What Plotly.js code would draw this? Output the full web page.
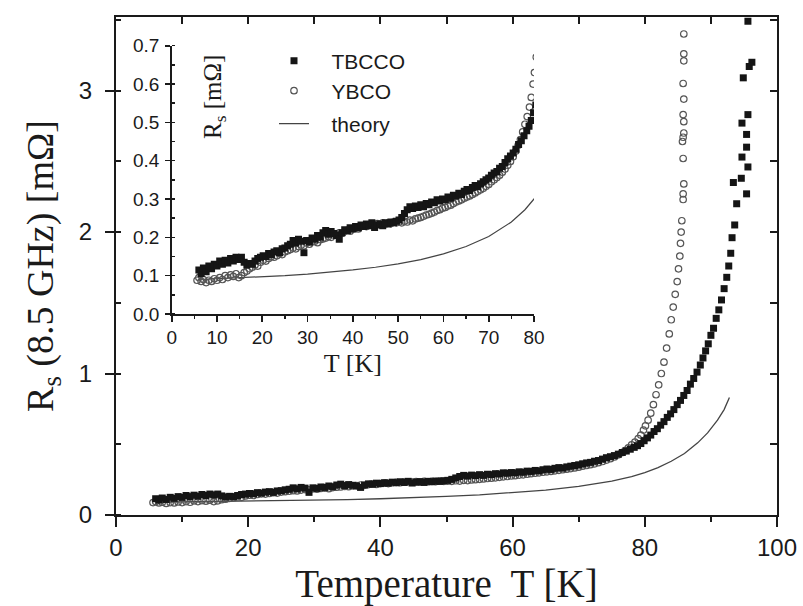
<!DOCTYPE html>
<html>
<head>
<meta charset="utf-8">
<script src="https://cdn.plot.ly/plotly-3.0.1.min.js"></script>
<style>html,body{margin:0;padding:0;background:#fff;}#chart{width:803px;height:606px;}</style>
</head>
<body>
<div id="chart"></div>
<script>
// ---- data ----
const tbccoT = [6.0,6.5,7.0,7.6,8.2,8.8,9.4,10.0,10.6,11.2,11.8,12.4,13.0,13.6,14.2,14.8,15.4,16.0,16.6,17.2,17.8,18.4,19.0,19.6,20.2,20.8,21.4,22.0,22.6,23.2,23.8,24.4,25.0,25.6,26.2,26.8,27.4,28.0,28.6,29.2,29.8,30.4,31.0,31.6,32.2,32.8,33.4,34.0,34.6,35.2,35.8,36.4,37.0,37.6,38.2,38.8,39.4,40.0,40.6,41.2,41.8,42.4,43.0,43.6,44.2,44.8,45.4,46.0,46.6,47.2,47.8,48.4,49.0,49.6,50.2,50.8,51.4,52.0,52.6,53.2,53.8,54.4,55.0,55.6,56.2,56.8,57.4,58.0,58.6,59.2,59.8,60.4,61.0,61.6,62.2,62.8,63.4,64.0,64.6,65.2,65.8,66.4,67.0,67.6,68.2,68.8,69.4,70.0,70.6,71.2,71.8,72.4,73.0,73.6,74.2,74.8,75.4,76.0,76.6,77.2,77.8,78.4,78.9,79.4,79.9,80.4,80.9,81.4,81.9,82.4,82.9,83.4,83.9,84.4,84.9,85.4,85.9,86.4,86.9,87.4,87.9,88.4,88.8,89.2,89.6,90.0,90.4,90.8,91.2,91.6,92.0,92.4,92.7,93.0,93.2,93.6,93.9,93.4,95.4,94.6,95.6,94.7,95.4,95.4,94.7,95.6,94.9,95.8,96.2,95.6];
const tbccoR = [0.115,0.105,0.120,0.110,0.125,0.118,0.130,0.125,0.138,0.130,0.140,0.133,0.145,0.138,0.148,0.142,0.148,0.135,0.128,0.132,0.130,0.138,0.145,0.148,0.152,0.150,0.158,0.155,0.162,0.165,0.160,0.170,0.172,0.178,0.182,0.192,0.185,0.195,0.190,0.160,0.192,0.188,0.198,0.195,0.205,0.200,0.212,0.218,0.208,0.215,0.210,0.205,0.195,0.212,0.220,0.218,0.225,0.222,0.228,0.225,0.232,0.228,0.235,0.230,0.238,0.226,0.232,0.235,0.230,0.238,0.235,0.240,0.238,0.242,0.245,0.252,0.262,0.272,0.280,0.275,0.282,0.278,0.285,0.280,0.288,0.285,0.292,0.290,0.298,0.295,0.300,0.298,0.305,0.302,0.310,0.308,0.315,0.312,0.320,0.325,0.322,0.330,0.335,0.332,0.340,0.345,0.350,0.355,0.362,0.368,0.372,0.380,0.385,0.395,0.405,0.412,0.420,0.430,0.442,0.452,0.465,0.478,0.490,0.505,0.525,0.545,0.565,0.590,0.610,0.635,0.660,0.690,0.715,0.745,0.780,0.810,0.845,0.880,0.925,0.965,1.010,1.060,1.110,1.160,1.210,1.270,1.320,1.390,1.450,1.520,1.600,1.680,1.760,1.850,1.960,2.050,2.200,2.350,2.270,2.380,2.460,2.530,2.600,2.690,2.770,2.830,3.090,3.170,3.200,3.490];

const ybcoT = [5.6,6.0,6.5,7.0,7.6,8.2,8.8,9.4,10.0,10.6,11.2,11.8,12.4,13.0,13.6,14.2,14.8,15.4,16.0,16.6,17.2,17.8,18.4,19.0,19.6,20.2,20.8,21.4,22.0,22.6,23.2,23.8,24.4,25.0,25.6,26.2,26.8,27.4,28.0,28.6,29.2,29.8,30.4,31.0,31.6,32.2,32.8,33.4,34.0,34.6,35.2,35.8,36.4,37.0,37.6,38.2,38.8,39.4,40.0,40.6,41.2,41.8,42.4,43.0,43.6,44.2,44.8,45.4,46.0,46.6,47.2,47.8,48.4,49.0,49.6,50.2,50.8,51.4,52.0,52.6,53.2,53.8,54.4,55.0,55.6,56.2,56.8,57.4,58.0,58.6,59.2,59.8,60.4,61.0,61.6,62.2,62.8,63.4,64.0,64.6,65.2,65.8,66.4,67.0,67.6,68.2,68.8,69.4,70.0,70.6,71.2,71.8,72.4,73.0,73.6,74.2,74.8,75.4,76.0,76.5,77.0,77.5,78.0,78.5,79.0,79.4,79.8,80.1,80.5,80.9,81.3,81.7,82.1,82.5,82.9,83.3,83.7,84.0,84.3,84.6,84.9,85.1,85.3,85.4,85.5,85.6,85.8,85.8,85.9,85.8,85.7,85.8,85.9,85.9,85.8,85.9,85.8,85.9,85.9,85.9];
const ybcoR = [0.088,0.095,0.085,0.090,0.082,0.088,0.085,0.092,0.088,0.095,0.090,0.100,0.095,0.102,0.098,0.105,0.095,0.100,0.108,0.112,0.118,0.122,0.128,0.125,0.135,0.140,0.138,0.145,0.150,0.148,0.152,0.158,0.155,0.162,0.165,0.168,0.172,0.170,0.176,0.180,0.178,0.185,0.182,0.188,0.190,0.186,0.194,0.196,0.198,0.202,0.200,0.206,0.208,0.212,0.210,0.215,0.218,0.216,0.222,0.225,0.222,0.228,0.230,0.228,0.232,0.235,0.232,0.236,0.234,0.238,0.235,0.238,0.236,0.240,0.238,0.240,0.238,0.242,0.240,0.245,0.243,0.248,0.250,0.252,0.255,0.258,0.260,0.263,0.266,0.270,0.272,0.276,0.278,0.282,0.284,0.288,0.292,0.295,0.298,0.302,0.305,0.308,0.312,0.316,0.320,0.324,0.328,0.333,0.338,0.345,0.350,0.356,0.362,0.370,0.378,0.388,0.398,0.410,0.425,0.440,0.455,0.475,0.495,0.515,0.540,0.565,0.600,0.630,0.670,0.720,0.780,0.850,0.920,1.000,1.080,1.180,1.280,1.380,1.470,1.560,1.650,1.740,1.830,1.920,2.000,2.080,2.230,2.270,2.340,2.520,2.640,2.670,2.700,2.780,2.830,2.940,3.050,3.210,3.260,3.400];

const theoryT = [6,10,15,20,25,30,35,40,45,50,55,60,65,70,75,78,80,82,84,86,88,89.5,91,92,92.8];
const theoryR = [0.090,0.092,0.094,0.097,0.100,0.104,0.109,0.115,0.122,0.131,0.142,0.157,0.176,0.202,0.240,0.272,0.300,0.335,0.380,0.435,0.510,0.580,0.670,0.745,0.830];

const mainXTicks = [0,20,40,60,80,100];
const mainYTicks = [0,1,2,3];
const insetXTicks = [0,10,20,30,40,50,60,70,80];
const insetYTicks = [0.0,0.1,0.2,0.3,0.4,0.5,0.6,0.7];

// ---- styles ----
const SANS = "Arial, 'Liberation Sans', sans-serif";
const SERIF = "'Times New Roman', 'Liberation Serif', serif";
const INK = '#1a1a1a';
const sqMarker = {symbol:'square', size:7, color:'#151515', line:{width:0}};
const ciMarker = {symbol:'circle-open', size:6.5, color:'#555', line:{width:1.2, color:'#555'}};
const thLine = {color:'#444', width:1.3};

const W = 661, H = 498, L = 116, T0 = 17;
function px2x(px){return (px-L)/W;}
function px2y(py){return (T0+H-py)/H;}

const traces = [
  {x:theoryT, y:theoryR, mode:'lines', line:thLine, name:'\u00a0\u00a0\u00a0theory', legend:'legend3', xaxis:'x', yaxis:'y', hoverinfo:'skip'},
  {x:ybcoT, y:ybcoR, mode:'markers', marker:ciMarker, name:'\u00a0\u00a0\u00a0YBCO', legend:'legend2', xaxis:'x', yaxis:'y'},
  {x:tbccoT, y:tbccoR, mode:'markers', marker:sqMarker, name:'\u00a0\u00a0\u00a0TBCCO', legend:'legend', xaxis:'x', yaxis:'y'},
  {x:theoryT, y:theoryR, mode:'lines', line:{color:'#444', width:1.2}, showlegend:false, xaxis:'x2', yaxis:'y2', hoverinfo:'skip'},
  {x:ybcoT, y:ybcoR, mode:'markers', marker:ciMarker, showlegend:false, xaxis:'x2', yaxis:'y2'},
  {x:tbccoT, y:tbccoR, mode:'markers', marker:sqMarker, showlegend:false, xaxis:'x2', yaxis:'y2'},
  {x:[null], y:[null], mode:'markers', showlegend:false, xaxis:'x3', yaxis:'y3', hoverinfo:'skip'}
];

const legendBase = {xanchor:'left', yanchor:'middle', bgcolor:'rgba(0,0,0,0)', borderwidth:0,
  font:{family:SANS, size:21, color:INK}, itemwidth:30};

const layout = {
  width:803, height:606,
  margin:{l:L, r:803-L-W, t:T0, b:606-T0-H},
  paper_bgcolor:'#fff', plot_bgcolor:'#fff',
  showlegend:true,
  legend: Object.assign({}, legendBase, {x:px2x(274), y:px2y(61)}),
  legend2: Object.assign({}, legendBase, {x:px2x(274), y:px2y(91)}),
  legend3: Object.assign({}, legendBase, {x:px2x(274), y:px2y(124)}),
  xaxis:{domain:[0,1], range:[0,100], anchor:'y', showgrid:false, zeroline:false,
    showline:true, linecolor:INK, linewidth:2, mirror:true,
    tickmode:'array', tickvals:mainXTicks, ticks:'outside', ticklen:10, tickwidth:2, tickcolor:INK,
    ticklabelstandoff:0,
    minor:{dtick:10, ticks:'outside', ticklen:5, tickwidth:2, tickcolor:INK},
    tickfont:{family:SANS, size:24, color:INK},
    title:{text:'Temperature  T [K]', font:{family:SERIF, size:39, color:INK}, standoff:16}},
  yaxis:{domain:[0,1], range:[0,3.52], anchor:'x', showgrid:false, zeroline:false,
    showline:true, linecolor:INK, linewidth:2, mirror:true,
    tickmode:'array', tickvals:mainYTicks, ticks:'outside', ticklen:9, tickwidth:2, tickcolor:INK,
    ticklabelstandoff:8,
    minor:{dtick:0.5, ticks:'inside', ticklen:5, tickwidth:2, tickcolor:INK},
    tickfont:{family:SANS, size:24, color:INK},
    title:{text:'R<sub>s</sub> (8.5 GHz) [mΩ]', font:{family:SERIF, size:38, color:INK}, standoff:14}},
  xaxis3:{overlaying:'x', side:'top', anchor:'y', range:[0,100], showgrid:false, zeroline:false,
    showline:false, dtick:10, ticks:'inside', ticklen:7, tickwidth:2, tickcolor:INK, showticklabels:false},
  yaxis3:{overlaying:'y', side:'right', anchor:'x', range:[0,3.52], showgrid:false, zeroline:false,
    showline:false, dtick:0.5, tick0:0, ticks:'inside', ticklen:7, tickwidth:2, tickcolor:INK, showticklabels:false},
  xaxis2:{domain:[px2x(171.7), px2x(534)], range:[0,80], anchor:'y2', showgrid:false, zeroline:false,
    showline:true, linecolor:INK, linewidth:1.6,
    tickmode:'array', tickvals:insetXTicks, ticks:'outside', ticklen:6, tickwidth:1.6, tickcolor:INK,
    minor:{dtick:5, ticks:'outside', ticklen:3.5, tickwidth:1.4, tickcolor:INK},
    tickfont:{family:SANS, size:19, color:INK},
    title:{text:'T [K]', font:{family:SERIF, size:26, color:INK}, standoff:6}},
  yaxis2:{domain:[px2y(314), px2y(45.7)], range:[0,0.7], anchor:'x2', showgrid:false, zeroline:false,
    showline:true, linecolor:INK, linewidth:1.6,
    tickmode:'array', tickvals:insetYTicks, tickformat:'.1f', ticks:'outside', ticklen:5, tickwidth:1.6, tickcolor:INK,
    ticklabelstandoff:2,
    minor:{dtick:0.05, ticks:'inside', ticklen:3.5, tickwidth:1.4, tickcolor:INK},
    tickfont:{family:SANS, size:19, color:INK}},
  annotations:[
    {xref:'paper', yref:'paper', x:px2x(214), y:px2y(97), text:'R<sub>s</sub> [mΩ]', textangle:-90,
     showarrow:false, xanchor:'center', yanchor:'middle', font:{family:SERIF, size:25, color:INK}}
  ]
};

Plotly.newPlot('chart', traces, layout, {staticPlot:true, displayModeBar:false});
</script>
</body>
</html>
